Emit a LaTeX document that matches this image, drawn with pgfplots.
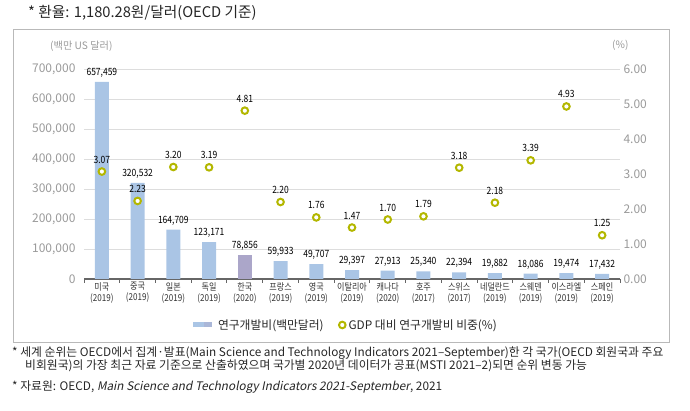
\documentclass[border=0pt]{standalone}
\usepackage{fontspec}
\usepackage{pgfplots}
\pgfplotsset{compat=1.18}
\setmainfont{Noto Sans CJK KR}
\newfontfamily\cond[FakeStretch=0.85]{Noto Sans CJK KR}
\newfontfamily\slant[FakeSlant=0.2]{Noto Sans CJK KR}
\definecolor{barblue}{HTML}{AAC5E5}
\definecolor{korbar}{HTML}{ABA6C9}
\definecolor{mk}{HTML}{B3B700}
\definecolor{tickgray}{HTML}{9A9A9A}
\definecolor{gridgray}{HTML}{DDDDDD}
\begin{document}
\begin{tikzpicture}[x=1pt,y=1pt]
\path[use as bounding box] (0,0) rectangle (690,411);
\draw[gray!55, line width=0.8pt] (13,69) rectangle (669,382);
\node[anchor=base west, inner sep=0, font=\fontsize{14.7}{14.7}\selectfont, text=black!85] at (28,393) {* 환율: 1,180.28원/달러(OECD 기준)};
\node[anchor=west, inner sep=0, font=\fontsize{10.2}{10.2}\selectfont, text=tickgray] at (50,365) {(백만 US 달러)};
\node[anchor=west, inner sep=0, font=\fontsize{10.2}{10.2}\selectfont, text=tickgray] at (612,366) {(\%)};

\begin{axis}[at={(84pt,132pt)}, anchor=south west, width=536pt, height=210pt, scale only axis,
 xmin=-0.5, xmax=14.5, ymin=0, ymax=700000,
 axis x line*=bottom, axis y line*=left,
 x axis line style={draw=gray!80!black, line width=1.2pt, -},
 y axis line style={draw=none},
 xtick={0,...,14},
 xticklabels={{미국\\(2019)},{중국\\(2019)},{일본\\(2019)},{독일\\(2019)},{한국\\(2020)},{프랑스\\(2019)},{영국\\(2019)},{이탈리아\\(2019)},{캐나다\\(2020)},{호주\\(2017)},{스위스\\(2017)},{네덜란드\\(2019)},{스웨덴\\(2019)},{이스라엘\\(2019)},{스페인\\(2019)}},
 major tick length=0,
 minor xtick={-0.5,0.5,...,14.5}, minor tick length=4pt, tick align=outside,
 minor tick style={draw=gray!80!black, line width=1pt},
 ytick={0,100000,...,700000}, ymajorgrids, grid style={gridgray, line width=0.9pt},
 scaled y ticks=false,
 /pgf/number format/fixed, /pgf/number format/1000 sep={,}, /pgf/number format/assume math mode=true,
 yticklabel style={font=\fontsize{12}{12}\selectfont, text=tickgray, xshift=-5pt},
 xticklabel style={font=\fontsize{9.5}{11}\selectfont\cond, align=center, text=black!80},
 ybar, bar width=14pt, bar shift=0pt,
 nodes near coords, nodes near coords style={font=\fontsize{10}{10}\selectfont\cond, text=black, yshift=1pt},
 clip=false,
]
\addplot[fill=barblue, draw=none] coordinates {(0,657459) (1,320532) (2,164709) (3,123171) (5,59933) (6,49707) (7,29397) (8,27913) (9,25340) (10,22394) (11,19882) (12,18086) (13,19474) (14,17432)};
\addplot[fill=korbar, draw=none] coordinates {(4,78856)};
\end{axis}

\begin{axis}[at={(84pt,132pt)}, anchor=south west, width=536pt, height=210pt, scale only axis,
 xmin=-0.5, xmax=14.5, ymin=0, ymax=6,
 axis y line*=right, axis x line=none, y axis line style={draw=none}, major tick length=0,
 ytick={0,...,6},
 /pgf/number format/fixed, /pgf/number format/fixed zerofill, /pgf/number format/precision=2, /pgf/number format/assume math mode=true,
 yticklabel style={font=\fontsize{12}{12}\selectfont, text=tickgray},
 clip=false,
 legend style={at={(0.203,-0.219)}, anchor=west, draw=none, fill=none, inner sep=0pt, font=\fontsize{11.8}{11.8}\selectfont, text=black!85, legend columns=2},
 legend cell align=left,
]
\addlegendimage{legend image code/.code={\fill[barblue, draw=none] (0pt,-2.5pt) rectangle (11pt,2.5pt); \fill[korbar!45!barblue, draw=none] (11pt,-2.5pt) rectangle (19pt,2.5pt); \path[draw=none, fill=none] (19pt,0pt) -- (23pt,0pt);}}
\addlegendentry{\makebox[118pt][l]{연구개발비(백만달러)}}
\addplot[only marks, mark=*, mark options={draw=mk, fill=white, line width=2pt}, mark size=3.3pt,
 legend image code/.code={\draw[mk, line width=2pt, fill=white] (4pt,0pt) circle (3.3pt);},
 nodes near coords={\pgfmathprintnumber[fixed,fixed zerofill,precision=2]{\pgfplotspointmeta}},
 every node near coord/.append style={font=\fontsize{10}{10}\selectfont\cond, text=black, yshift=4pt}]
 coordinates {(0,3.07) (1,2.23) (2,3.20) (3,3.19) (4,4.81) (5,2.20) (6,1.76) (7,1.47) (8,1.70) (9,1.79) (10,3.18) (11,2.18) (12,3.39) (13,4.93) (14,1.25)};
\addlegendentry{GDP 대비 연구개발비 비중(\%)}
\end{axis}

\node[anchor=base west, inner sep=0, font=\fontsize{11.8}{11.8}\selectfont, text=black!85] at (12,54) {* 세계 순위는 OECD에서 집계·발표(Main Science and Technology Indicators 2021–September)한 각 국가(OECD 회원국과 주요};
\node[anchor=base west, inner sep=0, font=\fontsize{11.8}{11.8}\selectfont, text=black!85] at (25,41) {비회원국)의 가장 최근 자료 기준으로 산출하였으며 국가별 2020년 데이터가 공표(MSTI 2021–2)되면 순위 변동 가능};
\node[anchor=base west, inner sep=0, font=\fontsize{11.8}{11.8}\selectfont, text=black!85] at (12,20) {* 자료원: OECD, {\slant Main Science and Technology Indicators 2021-September}, 2021};
\end{tikzpicture}
\end{document}
